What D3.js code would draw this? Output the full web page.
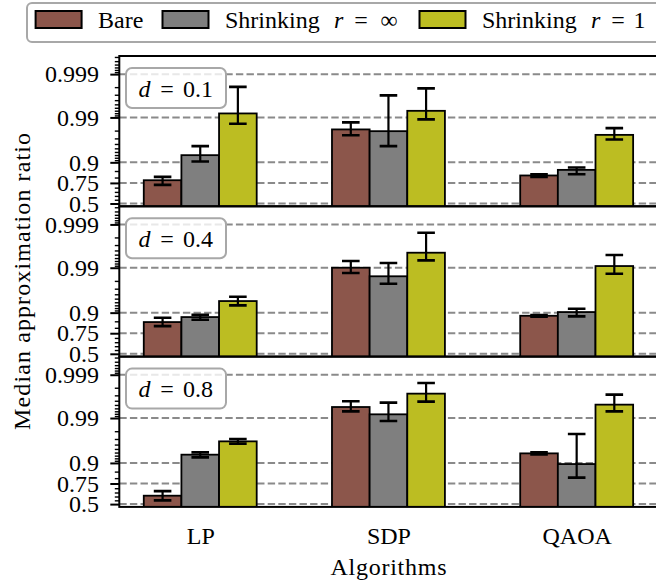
<!DOCTYPE html>
<html><head><meta charset="utf-8">
<script src="https://cdn.jsdelivr.net/npm/d3@7"></script>
<style>body{margin:0;background:#fff}svg{display:block}</style>
</head><body>
<svg id="chart" width="656" height="583"></svg>
<script>
// ---------- data ----------
const algorithms = ["LP", "SDP", "QAOA"];
const seriesKeys = ["bare", "inf", "r1"];
const seriesColors = ["#8c564b", "#7f7f7f", "#bcbd22"];
const densities = ["0.1", "0.4", "0.8"];
const yTickValues = [0.5, 0.75, 0.9, 0.99, 0.999];
const yTickLabels = ["0.5", "0.75", "0.9", "0.99", "0.999"];
const yMinorValues = [0.55, 0.6, 0.65, 0.7, 0.8, 0.85,
  0.91, 0.92, 0.93, 0.94, 0.95, 0.96, 0.97, 0.98,
  0.991, 0.992, 0.993, 0.994, 0.995, 0.996, 0.997, 0.998,
  0.9991, 0.9992, 0.9993, 0.9994, 0.9995, 0.9996];

// median approximation ratio, per density, per series, per algorithm (LP, SDP, QAOA)
const bare_d01 = [0.776, 0.9812, 0.817];
const bareLo_d01 = [0.730, 0.9746, 0.8055];
const bareHi_d01 = [0.8055, 0.9870, 0.8271];
const inf_d01 = [0.9296, 0.9794, 0.8576];
const infLo_d01 = [0.9041, 0.9553, 0.8271];
const infHi_d01 = [0.9553, 0.99689, 0.8725];
const r1_d01 = [0.9919, 0.99295, 0.9750];
const r1Lo_d01 = [0.9860, 0.9889, 0.9683];
const r1Hi_d01 = [0.99803, 0.99786, 0.9824];

const bare_d04 = [0.8447, 0.9900, 0.8839];
const bareLo_d04 = [0.8145, 0.9868, 0.8783];
const bareHi_d04 = [0.8725, 0.99298, 0.8877];
const inf_d04 = [0.8766, 0.9843, 0.9027];
const infLo_d04 = [0.8601, 0.9768, 0.8806];
const infHi_d04 = [0.8893, 0.9922, 0.9172];
const r1_d04 = [0.9435, 0.99549, 0.99085];
const r1Lo_d04 = [0.9299, 0.99324, 0.98627];
const r1Hi_d04 = [0.9546, 0.99844, 0.9949];

const bare_d08 = [0.6103, 0.99442, 0.9375];
const bareLo_d08 = [0.5492, 0.99298, 0.9343];
const bareHi_d08 = [0.6670, 0.99588, 0.9406];
const inf_d08 = [0.9333, 0.99178, 0.8945];
const infLo_d08 = [0.9238, 0.98828, 0.8039];
const infHi_d08 = [0.9406, 0.99558, 0.9768];
const r1_d08 = [0.9661, 0.99726, 0.99508];
const r1Lo_d08 = [0.9618, 0.99581, 0.99298];
const r1Hi_d08 = [0.9699, 0.99844, 0.99711];

const panels = [
  { d: densities[0], med: [bare_d01, inf_d01, r1_d01], lo: [bareLo_d01, infLo_d01, r1Lo_d01], hi: [bareHi_d01, infHi_d01, r1Hi_d01] },
  { d: densities[1], med: [bare_d04, inf_d04, r1_d04], lo: [bareLo_d04, infLo_d04, r1Lo_d04], hi: [bareHi_d04, infHi_d04, r1Hi_d04] },
  { d: densities[2], med: [bare_d08, inf_d08, r1_d08], lo: [bareLo_d08, infLo_d08, r1Lo_d08], hi: [bareHi_d08, infHi_d08, r1Hi_d08] }
];

// ---------- layout ----------
const FONT = "'Liberation Serif', 'Times New Roman', serif";
const svg = d3.select("#chart");
const plotL = 119.3, plotR = 657.6, plotT = 56, panelH = 150.3;
const barW = 0.2;

const x = d3.scaleLinear().domain([-0.43, 2.43]).range([plotL, plotR]);

// logit scale built on a d3 log scale of the odds p/(1-p)
function logitScale(odds) {
  const s = p => odds(p / (1 - p));
  s.range = () => odds.range();
  s.domain = () => odds.domain().map(o => o / (1 + o));
  s.copy = () => logitScale(odds.copy());
  return s;
}

// text built from parts placed at given x offsets (math-like spacing)
function mathText(sel, x0, y0, parts) {
  const t = sel.append("text").attr("x", x0).attr("y", y0)
    .attr("font-family", FONT).attr("font-size", 24).attr("fill", "#000");
  parts.forEach(p => t.append("tspan").attr("x", x0 + p[1])
    .attr("font-style", p[2] ? "italic" : "normal").text(p[0]));
  return t;
}

panels.forEach((P, pi) => {
  const y0 = plotT + pi * panelH, y1 = y0 + panelH;
  const y = logitScale(d3.scaleLog().domain([Math.pow(10, -0.065), Math.pow(10, 3.42)]).range([y1, y0]));
  const g = svg.append("g");
  const clipId = "clip" + pi;
  svg.append("clipPath").attr("id", clipId).append("rect")
    .attr("x", plotL).attr("y", y0).attr("width", plotR - plotL).attr("height", panelH);
  const inner = g.append("g").attr("clip-path", `url(#${clipId})`);

  // grid
  inner.selectAll("line.grid").data(yTickValues).join("line")
    .attr("x1", plotL).attr("x2", plotR)
    .attr("y1", d => y(d)).attr("y2", d => y(d))
    .attr("stroke", "#8a8a8a").attr("stroke-width", 2).attr("stroke-dasharray", "7.4,3.2");

  // bars
  seriesKeys.forEach((k, si) => {
    const off = (si - 1) * barW;
    inner.selectAll("rect.b" + si).data(P.med[si]).join("rect")
      .attr("x", (d, i) => x(i + off - barW / 2))
      .attr("width", x(barW) - x(0))
      .attr("y", d => y(d))
      .attr("height", d => y1 + 3 - y(d))
      .attr("fill", seriesColors[si]).attr("stroke", "#000").attr("stroke-width", 1.8);
  });
  // error bars
  seriesKeys.forEach((k, si) => {
    const off = (si - 1) * barW;
    const eg = inner.append("g");
    P.med[si].forEach((d, i) => {
      const cx = x(i + off);
      const ylo = y(P.lo[si][i]), yhi = y(P.hi[si][i]);
      eg.append("line").attr("x1", cx).attr("x2", cx).attr("y1", ylo).attr("y2", yhi)
        .attr("stroke", "#000").attr("stroke-width", 2.2);
      [ylo, yhi].forEach(yy => eg.append("line").attr("x1", cx - 8.8).attr("x2", cx + 8.8)
        .attr("y1", yy).attr("y2", yy).attr("stroke", "#000").attr("stroke-width", 2.6));
    });
  });

  // d label box
  const bx = 126, by = y0 + 12, bw = 100, bh = 40;
  g.append("rect").attr("x", bx).attr("y", by).attr("width", bw).attr("height", bh)
    .attr("rx", 6).attr("fill", "#fff").attr("fill-opacity", 0.8)
    .attr("stroke", "#a8a8a8").attr("stroke-width", 2);
  mathText(g, 138.5, by + bh / 2 + 8.5, [["d", 0, true], ["=", 21.7], [P.d, 44.5]]);

  // y axis major + minor
  const axMaj = d3.axisLeft(y).tickValues(yTickValues).tickFormat((d, i) => yTickLabels[i])
    .tickSize(9).tickPadding(11.3);
  const ga = g.append("g").attr("transform", `translate(${plotL},0)`).call(axMaj);
  ga.select(".domain").remove();
  ga.selectAll(".tick line").attr("stroke-width", 2);
  ga.selectAll("text").attr("font-family", FONT).attr("font-size", 24).attr("fill", "#000");
  const axMin = d3.axisLeft(y).tickValues(yMinorValues).tickFormat("").tickSize(4.5);
  const gm = g.append("g").attr("transform", `translate(${plotL},0)`).call(axMin);
  gm.select(".domain").remove();
  gm.selectAll(".tick line").attr("stroke-width", 1.4);

  // spines
  g.append("rect").attr("x", plotL).attr("y", y0).attr("width", plotR - plotL).attr("height", panelH)
    .attr("fill", "none").attr("stroke", "#000").attr("stroke-width", 2);

  if (pi === panels.length - 1) {
    const axX = d3.axisBottom(x).tickValues([0, 1, 2]).tickFormat((d, i) => algorithms[i])
      .tickSize(0).tickPadding(20);
    const gx = g.append("g").attr("transform", `translate(0,${y1})`).call(axX);
    gx.select(".domain").remove();
    gx.selectAll("text").attr("font-family", FONT).attr("font-size", 24).attr("fill", "#000");
  }
});

// axis titles
svg.append("text").attr("transform", `translate(30,${plotT + 1.5 * panelH}) rotate(-90)`)
  .attr("text-anchor", "middle").attr("font-family", FONT).attr("font-size", 24)
  .attr("textLength", 297).attr("lengthAdjust", "spacing")
  .text("Median approximation ratio");
svg.append("text").attr("x", 388.5).attr("y", 575)
  .attr("text-anchor", "middle").attr("font-family", FONT).attr("font-size", 24)
  .attr("textLength", 116).attr("lengthAdjust", "spacing")
  .text("Algorithms");

// legend
const lg = svg.append("g");
lg.append("rect").attr("x", 27).attr("y", 3).attr("width", 700).attr("height", 39).attr("rx", 5)
  .attr("fill", "#fff").attr("stroke", "#a8a8a8").attr("stroke-width", 2);
const legendX = [35.6, 162.5, 419.5];
const legendParts = [
  [["Bare", 0]],
  [["Shrinking", 0], ["r", 109, true], ["=", 129.2], ["∞", 155.5]],
  [["Shrinking", 0], ["r", 109, true], ["=", 129.2], ["1", 151.6]]
];
legendParts.forEach((parts, i) => {
  lg.append("rect").attr("x", legendX[i]).attr("y", 11).attr("width", 46).attr("height", 17)
    .attr("fill", seriesColors[i]).attr("stroke", "#000").attr("stroke-width", 2);
  mathText(lg, legendX[i] + 62.5, 28, parts);
});
</script>
</body></html>
